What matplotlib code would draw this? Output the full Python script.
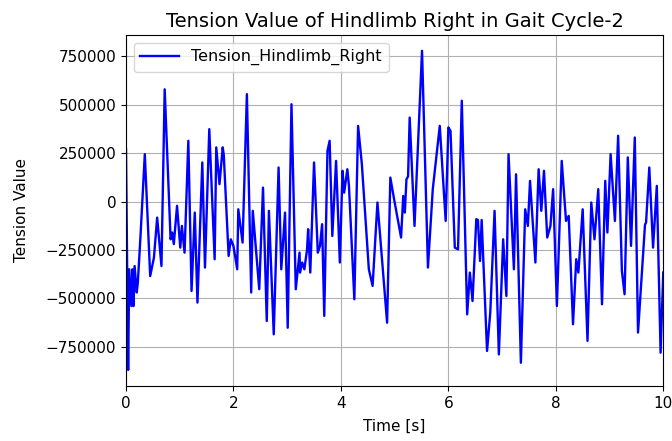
#import matrix plot library
import matplotlib
matplotlib.use("Agg")
import matplotlib.pyplot as plt

#time points (seconds)
time_s = [0.00, 0.04, 0.06, 0.10, 0.12, 0.14, 0.16, 0.20, 0.22, 0.27,
          0.35, 0.45, 0.52, 0.58, 0.66, 0.72, 0.83, 0.86, 0.89, 0.95,
          1.01, 1.04, 1.09, 1.16, 1.22, 1.28, 1.33, 1.42, 1.47, 1.55,
          1.65, 1.68, 1.74, 1.80, 1.82, 1.91, 1.95, 2.00, 2.07, 2.09,
          2.17, 2.25, 2.33, 2.36, 2.48, 2.55, 2.62, 2.66, 2.75, 2.84,
          2.89, 2.96, 3.01, 3.08, 3.16, 3.23, 3.24, 3.28, 3.32, 3.37,
          3.39, 3.43, 3.50, 3.57, 3.61, 3.65, 3.69, 3.75, 3.79, 3.84,
          3.91, 3.98, 4.03, 4.06, 4.12, 4.15, 4.25, 4.32, 4.39, 4.52,
          4.59, 4.68, 4.86, 4.92, 4.99, 5.12, 5.16, 5.19, 5.22, 5.25,
          5.28, 5.37, 5.51, 5.62, 5.71, 5.84, 5.95, 6.00, 6.04, 6.12,
          6.18, 6.25, 6.35, 6.40, 6.45, 6.52, 6.55, 6.59, 6.62, 6.72,
          6.78, 6.86, 6.94, 7.02, 7.08, 7.12, 7.22, 7.26, 7.35, 7.43,
          7.48, 7.52, 7.62, 7.68, 7.73, 7.78, 7.84, 7.90, 7.95, 8.02,
          8.11, 8.19, 8.24, 8.32, 8.38, 8.42, 8.50, 8.59, 8.66, 8.72,
          8.79, 8.86, 8.92, 8.96, 9.02, 9.10, 9.16, 9.23, 9.28, 9.34,
          9.40, 9.47, 9.53, 9.66, 9.68, 9.74, 9.81, 9.88, 9.95, 10.00]

#tension values
tension = [270000, -870000, -350000, -540000, -350000, -540000, -333000, -470000, -420000, -178000,
           245000, -385000, -290000, -83000, -333000, 580000, -195000, -160000, -220000, -22000,
           -238000, -126000, -264000, 314000, -462000, -57000, -522000, 202000, -341000, 374000,
           -298000, 280000, 90000, 280000, 240000, -281000, -195000, -230000, -350000, -40000,
           -212000, 555000, -470000, -48000, -453000, 72000, -617000, -48000, -686000, 176000,
           -350000, -57000, -652000, 503000, -453000, -264000, -367000, -315000, -350000, -247000,
           -143000, -367000, 202000, -264000, -230000, -117000, -591000, 262000, 314000, -178000,
           210000, -315000, 159000, 46000, 167000, 81000, -505000, 391000, 193000, -350000,
           -436000, -5000, -626000, 124000, 12000, -186000, 29000, -57000, 115000, 130000,
           434000, -126000, 779000, -341000, 64000, 391000, -100000, 383000, 365000, -238000,
           -247000, 521000, -583000, -367000, -514000, -91000, -95000, -307000, -95000, -772000,
           -574000, -48000, -790000, -195000, -488000, 245000, -350000, 141000, -833000, -40000,
           -126000, 107000, -315000, 167000, -48000, 159000, -186000, -126000, 64000, -540000,
           210000, -100000, -74000, -634000, -298000, -367000, -40000, -720000, -5000, -195000,
           64000, -531000, 107000, -160000, 245000, -100000, 340000, -359000, -479000, 228000,
           -229000, 331000, -677000, -120000, -108000, 176000, -238000, 81000, -781000, -367000]

if __name__ == "__main__":
    #canvas of 672x441 pixels
    fig = plt.figure(figsize=(6.72, 4.41), dpi=100)
    ax = fig.add_axes([0.1875, 0.125, 0.7995, 0.796])

    #draw the tension curve
    ax.plot(time_s, tension, color="b", linewidth=1.7, label="Tension_Hindlimb_Right")

    ax.set_xlim(0, 10)
    ax.set_yticks([-750000, -500000, -250000, 0, 250000, 500000, 750000])
    ax.tick_params(labelsize=11)
    ax.set_title("Tension Value of Hindlimb Right in Gait Cycle-2", fontsize=14)
    ax.set_xlabel("Time [s]", fontsize=11, labelpad=6)
    ax.set_ylabel("Tension Value", fontsize=11, labelpad=12)
    ax.grid(True)
    ax.legend(loc="upper left", fontsize=11.5, handlelength=2.4)

    fig.savefig("out.png", dpi=100)
